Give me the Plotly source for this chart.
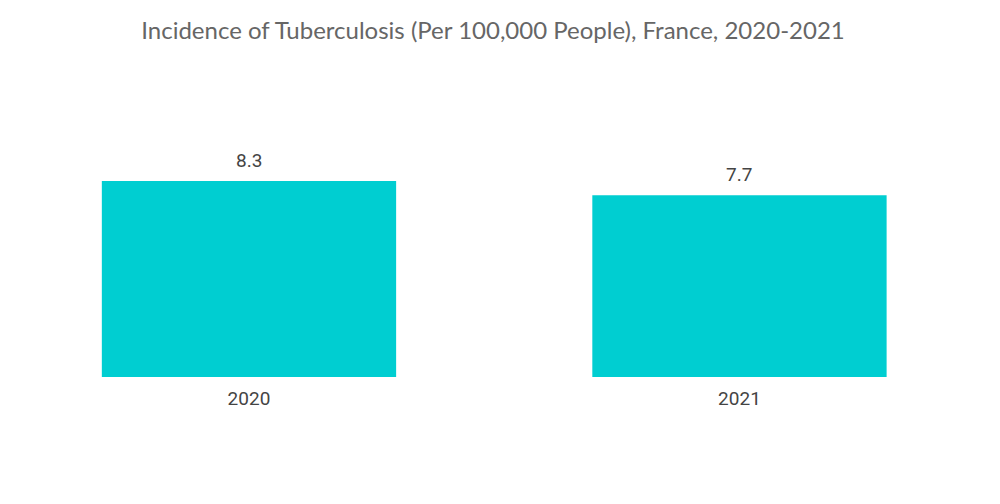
import plotly.graph_objects as go

categories = ["2020", "2021"]
values = [8.3, 7.7]
value_labels = ["8.3", "7.7"]

fig = go.Figure(go.Bar(
    x=categories, y=values,
    marker=dict(color="#00CED1", line=dict(width=0)),
))
for i, (v, t) in enumerate(zip(values, value_labels)):
    fig.add_annotation(x=i, y=v, xref="x", yref="y", text=t, showarrow=False,
                       yanchor="bottom", yshift=7,
                       font=dict(family="Roboto", size=19, color="#444444"))

fig.update_layout(
    width=1000, height=504,
    paper_bgcolor="white", plot_bgcolor="white",
    margin=dict(l=0, r=20, t=107, b=135),
    bargap=0.4,
    showlegend=False,
    title=dict(text="Incidence of Tuberculosis (Per 100,000 People), France, 2020-2021",
               x=0.485, xanchor="center", y=0.956, yanchor="middle",
               font=dict(family="Lato", size=24, color="#666666")),
    xaxis=dict(type="category", showgrid=False, showline=False, ticks="", zeroline=False,
               range=[-0.4913, 1.5067], ticklabelstandoff=8,
               tickfont=dict(family="Roboto", size=19, color="#444444")),
    yaxis=dict(visible=False, range=[0, 11.1]),
)
fig.write_html("out.html")
